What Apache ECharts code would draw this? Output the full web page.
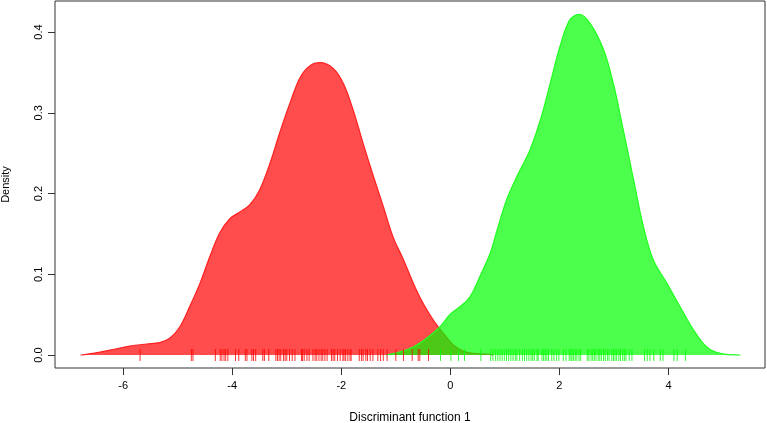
<!DOCTYPE html>
<html>
<head>
<meta charset="utf-8">
<script src="https://cdn.jsdelivr.net/npm/echarts@6/dist/echarts.min.js"></script>
<style>html,body{margin:0;padding:0;background:#fff}#c{width:767px;height:423px}</style>
</head>
<body>
<div id="c"></div>
<script>
// Density of group 1 (red)
const redX = [-6.78,-6.55,-6.24,-5.88,-5.57,-5.33,-5.14,-4.96,-4.78,-4.59,-4.41,-4.23,-4.04,-3.86,-3.68,-3.50,-3.31,-3.13,-2.94,-2.76,-2.58,-2.39,-2.15,-1.96,-1.78,-1.60,-1.41,-1.23,-1.05,-0.86,-0.68,-0.50,-0.31,-0.13,0.06,0.24,0.42,0.67,0.79];
const redY = [0.000,0.002,0.006,0.011,0.0136,0.0153,0.021,0.035,0.060,0.089,0.122,0.151,0.169,0.177,0.186,0.204,0.237,0.275,0.312,0.343,0.358,0.362,0.355,0.336,0.303,0.262,0.221,0.184,0.146,0.118,0.089,0.064,0.043,0.027,0.012,0.005,0.002,0.001,0.000];
// Density of group 2 (green)
const greenX = [-1.17,-0.92,-0.68,-0.43,-0.19,-0.01,0.18,0.36,0.54,0.73,0.85,1.03,1.22,1.46,1.65,1.83,2.01,2.19,2.36,2.56,2.81,2.99,3.17,3.36,3.54,3.72,3.97,4.21,4.46,4.70,4.95,5.32];
const greenY = [0.000,0.004,0.010,0.021,0.035,0.050,0.060,0.072,0.097,0.126,0.153,0.192,0.221,0.254,0.291,0.336,0.382,0.415,0.422,0.411,0.378,0.336,0.279,0.217,0.159,0.118,0.089,0.060,0.031,0.010,0.002,0.000];
// Rug values
const redRug = [-5.69,-4.75,-4.72,-4.31,-4.22,-4.19,-4.15,-4.12,-4.08,-3.94,-3.88,-3.76,-3.73,-3.64,-3.61,-3.57,-3.44,-3.41,-3.33,-3.20,-3.17,-3.14,-3.11,-3.06,-3.03,-3.00,-2.95,-2.90,-2.85,-2.73,-2.71,-2.68,-2.63,-2.59,-2.52,-2.48,-2.45,-2.41,-2.37,-2.34,-2.30,-2.26,-2.18,-2.15,-2.12,-2.07,-2.02,-1.97,-1.95,-1.92,-1.88,-1.84,-1.82,-1.67,-1.63,-1.60,-1.55,-1.52,-1.47,-1.42,-1.33,-1.28,-1.23,-1.16,-1.00,-0.86,-0.70,-0.59,-0.56,-0.40];
const greenRug = [-0.18,0.01,0.15,0.26,0.56,0.74,0.78,0.83,0.87,0.91,0.95,0.99,1.03,1.07,1.11,1.15,1.19,1.22,1.27,1.32,1.36,1.40,1.44,1.48,1.51,1.54,1.59,1.61,1.68,1.71,1.74,1.77,1.80,1.86,1.90,1.95,1.99,2.07,2.12,2.18,2.21,2.23,2.26,2.29,2.32,2.36,2.39,2.51,2.54,2.58,2.61,2.64,2.67,2.71,2.74,2.77,2.81,2.84,2.88,2.91,2.96,2.99,3.02,3.05,3.09,3.12,3.16,3.19,3.22,3.28,3.33,3.56,3.61,3.66,3.73,3.85,3.90,4.10,4.16,4.31];
const xTicks = [-6,-4,-2,0,2,4];
const yTicks = [0,0.1,0.2,0.3,0.4];
const xTitle = 'Discriminant function 1';
const yTitle = 'Density';

const pairs = (xs, ys) => xs.map((x, i) => [x, ys[i]]);
const rug = xs => xs.map(x => [x, 0]);
const font = 'Liberation Sans, Arial, sans-serif';

const chart = echarts.init(document.getElementById('c'), null, {renderer: 'canvas'});
chart.setOption({
  animation: false,
  backgroundColor: '#fff',
  grid: {left: 55, right: 2, top: 1, bottom: 55, containLabel: false, outerBoundsMode: 'none',
    show: true, borderColor: '#333', borderWidth: 1, backgroundColor: 'transparent'},
  xAxis: {
    type: 'value', min: -7.25, max: 5.77,
    axisLine: {show: false, onZero: false},
    splitLine: {show: false},
    axisTick: {show: true, customValues: xTicks, length: 7, inside: false, lineStyle: {color: '#333'}},
    axisLabel: {customValues: xTicks, margin: 12, fontSize: 11, color: '#000', fontFamily: font,
      formatter: v => String(v)},
    name: xTitle, nameLocation: 'middle', nameGap: 44,
    nameTextStyle: {fontSize: 12, color: '#000', fontFamily: font}
  },
  yAxis: {
    type: 'value', min: -0.0161, max: 0.4384,
    axisLine: {show: false, onZero: false},
    splitLine: {show: false},
    axisTick: {show: true, customValues: yTicks, length: 7, lineStyle: {color: '#333'}},
    axisLabel: {customValues: yTicks, rotate: 90, margin: 11, fontSize: 11, color: '#000', fontFamily: font,
      formatter: v => v.toFixed(1)},
    name: yTitle, nameLocation: 'middle', nameRotate: 90, nameGap: 44,
    nameTextStyle: {fontSize: 11, color: '#000', fontFamily: font}
  },
  series: [
    {type: 'line', data: pairs(redX, redY), smooth: 0.35, showSymbol: false, z: 2,
      lineStyle: {color: '#ff2020', width: 1.2},
      areaStyle: {color: 'rgb(255,0,0)', opacity: 0.7, origin: 0}},
    {type: 'line', data: pairs(greenX, greenY), smooth: 0.35, showSymbol: false, z: 3,
      lineStyle: {color: '#20ff20', width: 1.2},
      areaStyle: {color: 'rgb(0,255,0)', opacity: 0.7, origin: 0}},
    {type: 'scatter', data: rug(redRug), symbol: 'rect', symbolSize: [1, 12], z: 5, silent: true,
      itemStyle: {color: '#ff0000'}},
    {type: 'scatter', data: rug(greenRug), symbol: 'rect', symbolSize: [1, 12], z: 5, silent: true,
      itemStyle: {color: '#00ff00'}}
  ]
});
</script>
</body>
</html>
